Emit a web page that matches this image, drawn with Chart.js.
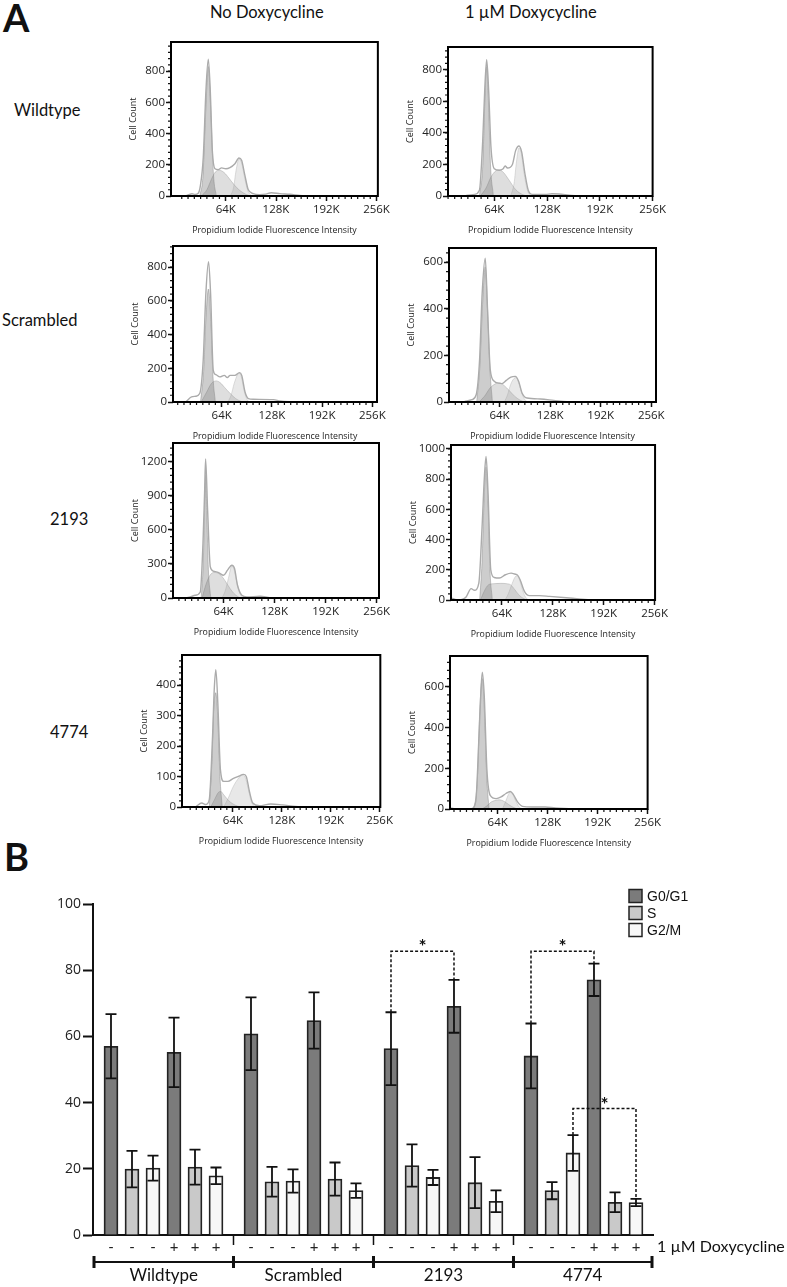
<!DOCTYPE html>
<html>
<head>
<meta charset="utf-8">
<script src="https://cdn.jsdelivr.net/npm/chart.js@4.4.1/dist/chart.umd.min.js"></script>
<style>
  body { margin: 0; background: #fff; width: 787px; height: 1287px; position: relative; overflow: hidden; font-family: Lato, sans-serif; color: #111; }
  .lbl { position: absolute; white-space: nowrap; line-height: 1; }
  canvas { position: absolute; }
</style>
</head>
<body>
<div class="lbl" style="left:3px;top:-2px;font-size:38px;font-weight:bold">A</div>
<div class="lbl" id="colNo" style="left:210px;top:4px;font-size:16.5px">No Doxycycline</div>
<div class="lbl" id="colDox" style="left:465px;top:4px;font-size:16.5px">1 µM Doxycycline</div>
<div class="lbl" style="left:14px;top:102px;font-size:16.5px">Wildtype</div>
<div class="lbl" style="left:2px;top:312px;font-size:16.5px">Scrambled</div>
<div class="lbl" style="left:50px;top:511px;font-size:16.5px">2193</div>
<div class="lbl" style="left:50px;top:724px;font-size:16.5px">4774</div>
<div class="lbl" style="left:4px;top:837px;font-size:38px;font-weight:bold">B</div>

<script>
// ---------- panel A: PI histograms, [fluorescence (K), cell count] ----------
const fluorTickK = [64, 128, 192, 256];

const wtNoDoxTotal = [[14,2],[18,10],[21,14],[25,10],[29,18],[31.5,60],[35.4,250],[38.8,677],[41.8,876],[44.3,677],[46.9,293],[50.3,175],[54.5,169],[58.7,180],[64.2,175],[69.3,182],[75.7,207],[80.8,244],[84.2,229],[88.4,132],[92.6,41],[99,15],[107,9],[115,12],[122,21],[133,15],[146,11],[158,4],[171,0]];
const wtNoDoxG1 = [[31,0],[35,130],[38.5,540],[41.8,830],[45,540],[48.5,130],[52,0]];
const wtNoDoxS = [[33,0],[40,40],[46,110],[51,155],[56,165],[62,150],[68,115],[75,70],[82,35],[90,10],[96,0]];
const wtNoDoxG2 = [[70,0],[74,55],[77,160],[80.8,235],[84,215],[88,120],[92,35],[97,0]];

const wtDoxTotal = [[30,3],[40,10],[46,36],[50,352],[52.4,669],[54.8,863],[57.2,669],[60,310],[64,173],[70,163],[74.8,173],[77.2,190],[80,177],[86,200],[90,289],[94,317],[97.2,279],[101.2,141],[105.2,36],[110,10],[126,10],[134,14],[142,13],[158,4],[190,0]];
const wtDoxG1 = [[46,0],[50,190],[52.5,590],[54.8,820],[57,590],[59.5,190],[63,0]];
const wtDoxS = [[47,0],[54,50],[60,120],[66,160],[70,165],[75,150],[82,100],[90,40],[98,10],[104,0]];
const wtDoxG2 = [[84,0],[88,80],[91,220],[94,305],[97,265],[100,150],[104,40],[108,0]];

const scrNoDoxTotal = [[19,4],[25.6,30],[31,34],[36,50],[40.5,248],[43.9,644],[47.3,832],[49.9,644],[53.3,188],[56.7,162],[61.8,149],[67.4,158],[71.2,145],[74.7,158],[81,158],[86.6,174],[89.6,158],[93.8,59],[98,20],[104.5,16],[130,14],[138.6,6],[156,0]];
const scrNoDoxG1 = [[37,0],[41,180],[44,500],[47.2,670],[50.5,450],[53,150],[56,0]];
const scrNoDoxS = [[38,0],[45,60],[51,110],[57,125],[62,115],[68,85],[75,50],[82,20],[88,5],[92,0]];
const scrNoDoxG2 = [[72,0],[76,40],[80,110],[84,160],[86.6,170],[89,150],[93,60],[97,10],[100,0]];

const scrDoxTotal = [[20,3],[29,10],[34.4,31],[38.7,181],[42,467],[45.9,617],[48.8,396],[52.2,139],[57.3,89],[62.8,81],[67,79],[72.5,93],[78.4,107],[83.9,110],[88.1,89],[92.4,39],[98.7,17],[115.6,13],[132.5,7],[149.4,1],[160,0]];
const scrDoxG1 = [[35,0],[39,150],[42.5,420],[45.8,580],[49,380],[52,130],[55,0]];
const scrDoxS = [[38,0],[45,25],[52,60],[60,80],[64,82],[70,70],[76,50],[83,25],[90,8],[95,0]];
const scrDoxG2 = [[70,0],[74,30],[78,75],[82,100],[85,105],[88,85],[92,40],[96,10],[100,0]];

const sh2193NoDoxTotal = [[18,3],[22,9],[28.6,24],[34.8,53],[38.2,481],[40.2,923],[41.5,1225],[44,776],[47.4,274],[51.5,236],[57.8,224],[64,200],[69,245],[74.4,289],[77.8,260],[81.5,112],[86.9,24],[93.2,9],[110,15],[122,3],[135,0]];
const sh2193NoDoxG1 = [[36,0],[38.5,300],[40.2,750],[41.6,1080],[43,750],[45,250],[48,0]];
const sh2193NoDoxS = [[37,0],[42,120],[47,200],[52,225],[57,220],[62,190],[67,140],[72,85],[77,40],[82,12],[86,0]];
const sh2193NoDoxG2 = [[62,0],[66,60],[70,170],[74.4,280],[77,255],[80,160],[84,50],[88,0]];

const sh2193DoxTotal = [[0.5,13],[5,4],[9,1],[14,4],[19,20],[25.3,75],[29.5,64],[35,112],[39.1,486],[42,815],[44.1,950],[46.6,706],[50,200],[54.4,149],[60.9,145],[68.4,167],[75.5,178],[80,172],[83.9,163],[86.9,134],[92.3,57],[98.6,29],[111,29],[124,24],[145,15],[161,7],[178,0]];
const sh2193DoxG1 = [[36,0],[39,250],[41.5,650],[44,880],[46.5,650],[49,200],[52,0]];
const sh2193DoxS = [[37,0],[42,60],[47,100],[54,108],[62,110],[70,108],[75,100],[80,70],[86,30],[92,8],[96,0]];
const sh2193DoxG2 = [[68,0],[72,40],[77,110],[81,155],[84,160],[87,120],[91,50],[95,10],[99,0]];

const sh4774NoDoxTotal = [[16,2],[23,13],[28.7,8],[33,24],[37.3,232],[39.5,385],[41.6,451],[44.2,342],[47.6,123],[51.9,84],[57.5,84],[64,93],[71.4,101],[77.8,107],[81.3,101],[85.6,51],[89.9,13],[98.5,4],[113.6,10],[128.7,7],[146,2],[159,0]];
const sh4774NoDoxG1 = [[33,0],[36.5,150],[39,330],[41.5,375],[44,300],[47,100],[50,0]];
const sh4774NoDoxS = [[35,0],[40,25],[45,48],[48,51],[52,40],[58,22],[64,10],[70,3],[74,0]];
const sh4774NoDoxG2 = [[52,0],[58,30],[64,65],[70,90],[76,105],[80,98],[84,60],[88,18],[92,0]];

const sh4774DoxTotal = [[3,5],[8,1],[12,0],[30,2],[35.8,35],[40,356],[42.6,586],[44.3,672],[46.8,553],[50.2,191],[54.4,67],[62,51],[68.3,59],[74.6,76],[80.1,86],[83.9,72],[89.4,35],[95.7,13],[108,10],[125,10],[138,5],[155,2],[167,0]];
const sh4774DoxG1 = [[34,0],[38,150],[41,480],[44.2,640],[47,480],[50,150],[53,0]];
const sh4774DoxS = [[44,0],[50,15],[56,35],[62,43],[66,45],[72,38],[78,22],[84,8],[90,0]];
const sh4774DoxG2 = [[70,0],[74,35],[77,65],[80,85],[83,75],[87,40],[91,12],[95,0]];

// ---------- panel B: % of cells per phase, order: WT -, WT +, Scr -, Scr +, 2193 -, 2193 +, 4774 -, 4774 + ----------
const cellLines = ['Wildtype', 'Scrambled', '2193', '4774'];
const doxSigns = ['-', '+'];
const phaseNames = ['G0/G1', 'S', 'G2/M'];
const g0g1Mean = [57.0, 55.2, 60.8, 64.8, 56.3, 69.1, 54.1, 77.1];
const g0g1Err  = [9.7, 10.5, 11.0, 8.5, 11.0, 8.0, 9.8, 4.9];
const sMean    = [19.9, 20.5, 16.1, 16.9, 21.0, 15.8, 13.4, 9.9];
const sErr     = [5.5, 5.3, 4.5, 5.0, 6.4, 7.7, 2.6, 3.0];
const g2mMean  = [20.2, 17.9, 16.3, 13.4, 17.4, 10.2, 24.8, 9.8];
const g2mErr   = [3.8, 2.5, 3.5, 2.2, 2.3, 3.3, 5.4, 1.1];
// significance: phase index, cell line index, bracket height (%)
const sigBrackets = [[0, 2, 85.7], [0, 3, 85.7], [2, 3, 38.2]];
const yTicksB = [0, 20, 40, 60, 80, 100];

// ---------- histogram layout ----------
const histPanels = [
  { frame: [171, 42, 378, 196],     x: [-5.7, 257.7], yMax: 987,  yStep: 200, d: [wtNoDoxTotal, wtNoDoxG1, wtNoDoxS, wtNoDoxG2] },
  { frame: [448, 46.5, 654, 195.7], x: [7.9, 256],    yMax: 944,  yStep: 200, d: [wtDoxTotal, wtDoxG1, wtDoxS, wtDoxG2] },
  { frame: [173.3, 246, 377, 401.7], x: [2, 262],     yMax: 925,  yStep: 200, d: [scrNoDoxTotal, scrNoDoxG1, scrNoDoxS, scrNoDoxG2] },
  { frame: [449.3, 248, 656, 402.3], x: [0, 262],     yMax: 661,  yStep: 200, d: [scrDoxTotal, scrDoxG1, scrDoxS, scrDoxG2] },
  { frame: [172.7, 443, 379, 597.7], x: [0.6, 259],   yMax: 1365, yStep: 300, d: [sh2193NoDoxTotal, sh2193NoDoxG1, sh2193NoDoxS, sh2193NoDoxG2] },
  { frame: [451, 445, 656, 600.3],   x: [0, 256.6],   yMax: 1025, yStep: 200, d: [sh2193DoxTotal, sh2193DoxG1, sh2193DoxS, sh2193DoxG2] },
  { frame: [181.7, 655, 381, 807.3], x: [-2.7, 257],  yMax: 499,  yStep: 100, d: [sh4774NoDoxTotal, sh4774NoDoxG1, sh4774NoDoxS, sh4774NoDoxG2] },
  { frame: [450, 656, 649.3, 808.7], x: [2.9, 256],   yMax: 751,  yStep: 200, d: [sh4774DoxTotal, sh4774DoxG1, sh4774DoxS, sh4774DoxG2] }
];

const Y_AXIS_W = 44, X_AXIS_H = 40, PAD_T = 8, PAD_R = 14;
const smallFont = 'Open Sans';

function framePlugin(xMinor, yMinor) {
  return {
    id: 'frame',
    afterDraw(chart) {
      const { ctx, chartArea: a, scales: { x, y } } = chart;
      ctx.save();
      ctx.strokeStyle = '#111';
      ctx.lineWidth = 1.2;
      ctx.beginPath();
      for (let v = Math.ceil(x.min / xMinor) * xMinor; v <= x.max; v += xMinor) {
        if (v % 64 === 0) continue;
        const px = x.getPixelForValue(v);
        ctx.moveTo(px, a.bottom); ctx.lineTo(px, a.bottom + 3);
      }
      for (let v = yMinor; v <= y.max; v += yMinor) {
        const py = y.getPixelForValue(v);
        ctx.moveTo(a.left, py); ctx.lineTo(a.left - 3, py);
      }
      ctx.stroke();
      ctx.lineWidth = 2;
      ctx.strokeStyle = '#000';
      ctx.strokeRect(a.left, a.top, a.right - a.left, a.bottom - a.top);
      ctx.restore();
    }
  };
}

function makeHistogram(p) {
  const [L, T, R, B] = p.frame;
  const cv = document.createElement('canvas');
  const w = Math.round(R - L + Y_AXIS_W + PAD_R);
  const h = Math.round(B - T + PAD_T + X_AXIS_H);
  cv.width = w; cv.height = h;
  cv.style.left = (L - Y_AXIS_W) + 'px';
  cv.style.top = (T - PAD_T) + 'px';
  document.body.appendChild(cv);
  const [xMin, xMax] = p.x;
  const yTicks = [];
  for (let v = 0; v <= p.yMax; v += p.yStep) yTicks.push(v);
  new Chart(cv, {
    type: 'line',
    data: {
      datasets: [
        { data: p.d[0], borderColor: '#ababab', borderWidth: 1.4, fill: false, order: 0 },
        { data: p.d[1], borderColor: 'rgba(120,120,120,0.5)', borderWidth: 0.8, backgroundColor: 'rgba(90,90,90,0.3)', fill: 'origin', order: 1 },
        { data: p.d[2], borderColor: 'rgba(150,150,150,0.5)', borderWidth: 0.8, backgroundColor: 'rgba(160,160,160,0.35)', fill: 'origin', order: 2 },
        { data: p.d[3], borderColor: 'rgba(175,175,175,0.5)', borderWidth: 0.8, backgroundColor: 'rgba(195,195,195,0.38)', fill: 'origin', order: 3 }
      ]
    },
    options: {
      responsive: false,
      animation: false,
      layout: { padding: { top: PAD_T, right: PAD_R, left: 0, bottom: 0 } },
      elements: { point: { radius: 0 }, line: { cubicInterpolationMode: 'monotone' } },
      plugins: { legend: { display: false }, tooltip: { enabled: false } },
      scales: {
        x: {
          type: 'linear', min: xMin, max: xMax,
          afterFit(s) { s.height = X_AXIS_H; },
          afterBuildTicks(s) { s.ticks = fluorTickK.filter(v => v >= xMin && v <= xMax + 0.5).map(v => ({ value: v })); },
          ticks: { callback: v => v + 'K', font: { family: smallFont, size: 11.5 }, color: '#222', padding: 2, maxRotation: 0, autoSkip: false },
          grid: { drawOnChartArea: false, tickLength: 5, tickColor: '#111', tickWidth: 1.5 },
          border: { display: false },
          title: { display: true, text: 'Propidium Iodide Fluorescence Intensity', font: { family: smallFont, size: 8.8 }, color: '#222', padding: { top: 3, bottom: 0 } }
        },
        y: {
          type: 'linear', min: 0, max: p.yMax,
          afterFit(s) { s.width = Y_AXIS_W; },
          afterBuildTicks(s) { s.ticks = yTicks.map(v => ({ value: v })); },
          ticks: { callback: v => String(v), font: { family: smallFont, size: 11.5 }, color: '#222', padding: 1, autoSkip: false },
          grid: { drawOnChartArea: false, tickLength: 5, tickColor: '#111', tickWidth: 1.5 },
          border: { display: false },
          title: { display: true, text: 'Cell Count', font: { family: smallFont, size: 9 }, color: '#222', padding: { top: 1, bottom: 0 } }
        }
      }
    },
    plugins: [framePlugin(8, p.yStep / 5)]
  });
}

histPanels.forEach(makeHistogram);

// ---------- panel B: bar chart ----------
const meansB = [g0g1Mean, sMean, g2mMean];
const errsB = [g0g1Err, sErr, g2mErr];
const fillsB = ['#7b7b7b', '#c9c9c9', '#f7f7f7'];
// position of a bar on the linear x axis (one unit = 1/3 bar slot)
const barPos = (g, k, ph) => g * 20 + k * 9 + ph * 3;
const tickLabelAt = new Map();
cellLines.forEach((c, g) => doxSigns.forEach((s, k) => phaseNames.forEach((n, ph) => tickLabelAt.set(barPos(g, k, ph), s))));

const barCanvas = document.createElement('canvas');
barCanvas.width = 787; barCanvas.height = 407;
barCanvas.style.left = '0px'; barCanvas.style.top = '880px';
document.body.appendChild(barCanvas);

const barExtras = {
  id: 'barExtras',
  afterDatasetsDraw(chart) {
    const { ctx, chartArea: a, scales: { x, y } } = chart;
    ctx.save();
    // error bars
    ctx.strokeStyle = '#111';
    ctx.lineWidth = 1.8;
    meansB.forEach((m, ph) => {
      cellLines.forEach((c, g) => doxSigns.forEach((s, k) => {
        const i = g * 2 + k;
        const px = x.getPixelForValue(barPos(g, k, ph));
        const top = y.getPixelForValue(m[i] + errsB[ph][i]);
        const bot = y.getPixelForValue(m[i] - errsB[ph][i]);
        ctx.beginPath();
        ctx.moveTo(px, top); ctx.lineTo(px, bot);
        ctx.moveTo(px - 5.5, top); ctx.lineTo(px + 5.5, top);
        ctx.moveTo(px - 5.5, bot); ctx.lineTo(px + 5.5, bot);
        ctx.stroke();
      }));
    });
    // significance brackets
    ctx.setLineDash([3, 2]);
    ctx.lineWidth = 1.5;
    sigBrackets.forEach(([ph, g, level]) => {
      const x0 = x.getPixelForValue(barPos(g, 0, ph));
      const x1 = x.getPixelForValue(barPos(g, 1, ph));
      const yl = y.getPixelForValue(level);
      const y0 = y.getPixelForValue(meansB[ph][g * 2] + errsB[ph][g * 2]);
      const y1 = y.getPixelForValue(meansB[ph][g * 2 + 1] + errsB[ph][g * 2 + 1]);
      ctx.beginPath();
      ctx.moveTo(x0, y0); ctx.lineTo(x0, yl); ctx.lineTo(x1, yl); ctx.lineTo(x1, y1);
      ctx.stroke();
    });
    ctx.setLineDash([]);
    ctx.fillStyle = '#111';
    ctx.font = 'bold 19px Lato';
    ctx.textAlign = 'center';
    ctx.textBaseline = 'alphabetic';
    sigBrackets.forEach(([ph, g, level]) => {
      const xm = (x.getPixelForValue(barPos(g, 0, ph)) + x.getPixelForValue(barPos(g, 1, ph))) / 2;
      ctx.fillText('*', xm, y.getPixelForValue(level) + 2);
    });
    // group dividers and bracket under the axis
    ctx.lineWidth = 1.5;
    const edges = [a.left + 1];
    for (let g = 0; g < cellLines.length - 1; g++) edges.push(x.getPixelForValue(g * 20 + 17.5));
    edges.push(a.right - 1);
    ctx.beginPath();
    edges.slice(1, -1).forEach(e => { ctx.moveTo(e, a.bottom); ctx.lineTo(e, a.bottom + 10); });
    ctx.stroke();
    const by = a.bottom + 27;
    ctx.lineWidth = 2;
    ctx.beginPath();
    ctx.moveTo(edges[0], by); ctx.lineTo(edges[edges.length - 1], by);
    ctx.stroke();
    ctx.lineWidth = 3;
    ctx.beginPath();
    edges.forEach(e => { ctx.moveTo(e, by - 6); ctx.lineTo(e, by + 6); });
    ctx.stroke();
    ctx.font = '17px Lato';
    ctx.textBaseline = 'middle';
    cellLines.forEach((c, g) => {
      ctx.fillText(c, (edges[g] + edges[g + 1]) / 2, by + 14);
    });
    ctx.textAlign = 'left';
    ctx.font = '16px Lato';
    ctx.fillText('1 µM Doxycycline', a.right + 4, a.bottom + 12);
    // legend
    ctx.font = '14px "Liberation Sans"';
    phaseNames.forEach((n, ph) => {
      const ly = 16 + ph * 17;
      ctx.fillStyle = fillsB[ph];
      ctx.fillRect(629, ly - 6.5, 13, 13);
      ctx.strokeStyle = '#222';
      ctx.lineWidth = 1.5;
      ctx.strokeRect(629, ly - 6.5, 13, 13);
      ctx.fillStyle = '#111';
      ctx.fillText(n, 647, ly + 1);
    });
    ctx.restore();
  }
};

new Chart(barCanvas, {
  type: 'bar',
  data: {
    datasets: phaseNames.map((n, ph) => ({
      label: n,
      data: cellLines.flatMap((c, g) => doxSigns.map((s, k) => ({ x: barPos(g, k, ph), y: meansB[ph][g * 2 + k] }))),
      backgroundColor: fillsB[ph],
      borderColor: '#222',
      borderWidth: 1.8,
      barThickness: 14,
      grouped: false
    }))
  },
  options: {
    responsive: false,
    animation: false,
    layout: { padding: { left: 0, top: 24, right: 134, bottom: 0 } },
    plugins: { legend: { display: false }, tooltip: { enabled: false } },
    scales: {
      x: {
        type: 'linear', min: -2.571, max: 77.43, offset: false,
        afterFit(s) { s.height = 52; },
        afterBuildTicks(s) { s.ticks = [...tickLabelAt.keys()].sort((a, b) => a - b).map(v => ({ value: v })); },
        ticks: { callback: v => tickLabelAt.get(v), font: { family: 'Lato', size: 15 }, color: '#222', padding: 3, maxRotation: 0, autoSkip: false },
        grid: { drawOnChartArea: false, drawTicks: false, offset: false },
        border: { display: true, color: '#111', width: 2 }
      },
      y: {
        min: 0, max: 100,
        afterFit(s) { s.width = 93; },
        afterBuildTicks(s) { s.ticks = yTicksB.map(v => ({ value: v })); },
        ticks: { font: { family: smallFont, size: 14 }, color: '#222', padding: 2 },
        grid: { drawOnChartArea: false, tickLength: 10, tickColor: '#111', tickWidth: 2 },
        border: { display: true, color: '#111', width: 2 }
      }
    }
  },
  plugins: [barExtras]
});
</script>
</body>
</html>
